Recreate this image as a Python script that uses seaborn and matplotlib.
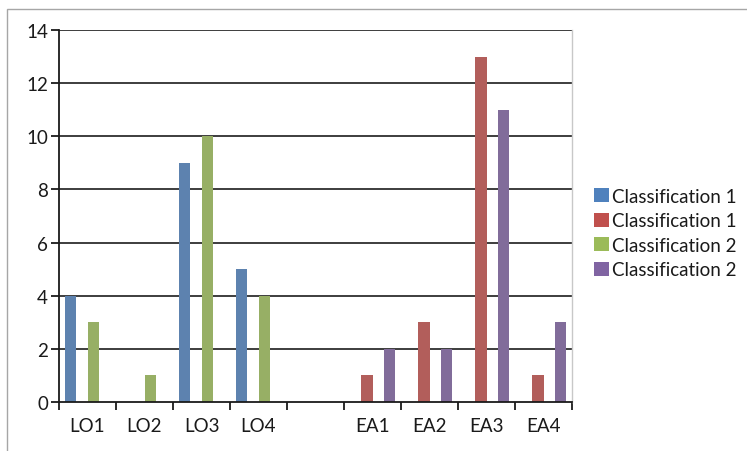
import matplotlib
matplotlib.use("Agg")
import matplotlib.pyplot as plt
from matplotlib.patches import Rectangle
from matplotlib.ticker import FixedLocator
import numpy as np
import pandas as pd
import seaborn as sns

# Categories (a blank slot separates the LO and EA groups)
categories = ["LO1", "LO2", "LO3", "LO4", " ", "EA1", "EA2", "EA3", "EA4"]

# Series values per category (NaN = no bar in that category)
series_labels = ["Classification 1", "Classification 1", "Classification 2", "Classification 2"]
blue_vals   = [4, 0, 9, 5, np.nan, np.nan, np.nan, np.nan, np.nan]
red_vals    = [np.nan, np.nan, np.nan, np.nan, np.nan, 1, 3, 13, 1]
green_vals  = [3, 1, 10, 4, np.nan, np.nan, np.nan, np.nan, np.nan]
purple_vals = [np.nan, np.nan, np.nan, np.nan, np.nan, 2, 2, 11, 3]
colors = ["#4F81BD", "#C0504D", "#9BBB59", "#8064A2"]

y_ticks = [0, 2, 4, 6, 8, 10, 12, 14]

sns.set_theme(style="white")
plt.rcParams["font.family"] = ["Lato", "DejaVu Sans"]

rows = []
for idx, vals in enumerate([blue_vals, red_vals, green_vals, purple_vals]):
    for cat, v in zip(categories, vals):
        rows.append({"category": cat, "series": idx, "value": v})
df = pd.DataFrame(rows)

fig = plt.figure(figsize=(7.47, 4.52), dpi=100)
fig.patch.set_facecolor("white")

# Outer chart frame
fig.patches.append(Rectangle((7 / 747, -0.1), 1.2, 1.1 - 10 / 452,
                             transform=fig.transFigure, fill=False,
                             edgecolor="#A6A6A6", linewidth=1.0))

ax = fig.add_axes([59 / 747, 1 - 403 / 452, (572 - 59) / 747, (403 - 31) / 452])
sns.barplot(data=df, x="category", y="value", hue="series",
            order=categories, hue_order=[0, 1, 2, 3],
            palette=dict(zip(range(4), colors)),
            width=0.8, dodge=True, linewidth=0, errorbar=None,
            legend=False, ax=ax)

ax.set_xlim(-0.5, len(categories) - 0.5)
ax.set_ylim(0, 14)
ax.set_yticks(y_ticks)
ax.set_yticklabels([str(t) for t in y_ticks])
ax.set_xlabel("")
ax.set_ylabel("")

for y in y_ticks[1:]:
    ax.axhline(y, color="#2E2E2E", linewidth=1.3, zorder=0)

# Ticks: category labels centred, tick marks at category boundaries
ax.xaxis.set_minor_locator(FixedLocator(np.arange(-0.5, len(categories), 1.0)))
ax.tick_params(axis="x", which="major", length=0, labelsize=13.5, pad=11, colors="#1A1A1A")
ax.tick_params(axis="x", which="minor", length=6, width=1.3, color="#1A1A1A", bottom=True)
ax.tick_params(axis="y", which="major", length=6, width=1.3, color="#1A1A1A",
               labelsize=13.5, pad=2, left=True, labelcolor="#1A1A1A")

ax.spines["top"].set_visible(False)
ax.spines["left"].set_color("#1A1A1A")
ax.spines["left"].set_linewidth(1.3)
ax.spines["bottom"].set_color("#1A1A1A")
ax.spines["bottom"].set_linewidth(1.3)
ax.spines["right"].set_color("#C8C8C8")
ax.spines["right"].set_linewidth(1.0)

handles = [Rectangle((0, 0), 1, 1, facecolor=c, edgecolor="none") for c in colors]
fig.legend(handles, series_labels, loc="center left",
           bbox_to_anchor=(586 / 747, 1 - 234 / 452), frameon=False,
           fontsize=13.5, handlelength=0.8, handleheight=0.8,
           handletextpad=0.2, labelspacing=0.4, borderaxespad=0,
           labelcolor="#1A1A1A")

fig.savefig("out.png", dpi=100, facecolor="white")
